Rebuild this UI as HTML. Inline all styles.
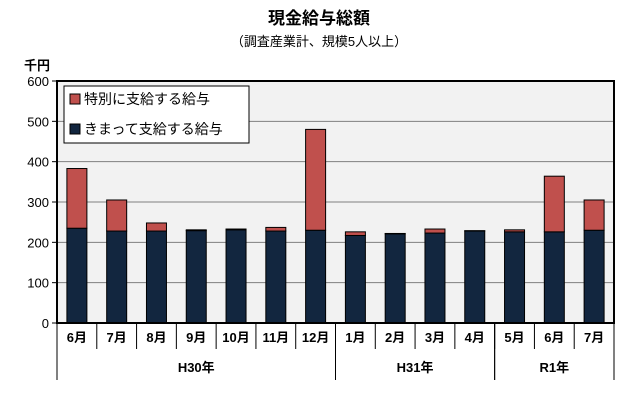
<!DOCTYPE html>
<html><head><meta charset="utf-8"><style>
body{margin:0;background:#fff;font-family:"Liberation Sans","Noto Sans CJK JP",sans-serif;}
svg text{font-family:"Liberation Sans","Noto Sans CJK JP",sans-serif;}
</style></head><body>
<svg id="c" width="639" height="402" xmlns="http://www.w3.org/2000/svg">
<text x="319" y="24" text-anchor="middle" font-size="17" font-weight="bold">現金給与総額</text>
<text x="319" y="46" text-anchor="middle" font-size="13">（調査産業計、規模5人以上）</text>
<text x="37" y="70" text-anchor="middle" font-size="13" font-weight="bold">千円</text>
<rect x="57" y="81" width="557" height="242" fill="#f2f2f2"/>
<g id="grid"></g><g id="bars"></g><g id="xaxis"></g>
<rect x="57" y="81" width="557" height="242" fill="none" stroke="#000" stroke-width="2"/>
<g>
<rect x="64" y="86" width="185" height="57" fill="#fff" stroke="#000"/>
<rect x="70" y="94" width="10" height="10" fill="#c0504d" stroke="#000"/>
<text x="84" y="104" font-size="14">特別に支給する給与</text>
<rect x="70" y="124" width="10" height="10" fill="#12263f" stroke="#000"/>
<text x="84" y="134" font-size="14">きまって支給する給与</text>
</g>
</svg>
<script>
const categories=["6月","7月","8月","9月","10月","11月","12月","1月","2月","3月","4月","5月","6月","7月"];
const regular=[235,228,228,229,231,228,230,217,221,223,228,226,226,230];
const special=[148,77,20,2,2,9,250,9,1,10,1,5,138,75];
const yTicks=[0,100,200,300,400,500,600];
const groups=[{label:"H30年",start:0,end:7},{label:"H31年",start:7,end:11},{label:"R1年",start:11,end:14}];
const X0=57,X1=614,Y0=323,Y1=81,YMAX=600;
const bw=(X1-X0)/categories.length;
const y=v=>Y0-(v/YMAX)*(Y0-Y1);
const xs=i=>X0+i*bw;
const NS="http://www.w3.org/2000/svg";
function mk(tag,attrs,parent,txt){const e=document.createElementNS(NS,tag);for(const k in attrs)e.setAttribute(k,attrs[k]);if(txt!==undefined)e.textContent=txt;parent.appendChild(e);return e;}
const grid=document.getElementById('grid'),bars=document.getElementById('bars'),xa=document.getElementById('xaxis');
yTicks.forEach(t=>{
 if(t>0&&t<YMAX){const l=mk('line',{x1:X0,x2:X1,y1:y(t),y2:y(t),stroke:'#808080'},grid);
 
 }
 const tk=mk('line',{x1:X0-5,x2:X0,y1:y(t),y2:y(t),stroke:'#000'},grid);
 
 
 const tx=mk('text',{x:X0-8,y:y(t)+5,'text-anchor':'end','font-size':13},grid,String(t));
 
 
});
categories.forEach((c,i)=>{
 const cx=xs(i)+bw/2,w=20;
 const r=mk('rect',{x:cx-w/2,y:y(regular[i]),width:w,height:Y0-y(regular[i]),fill:'#12263f',stroke:'#000'},bars);
 
 
 const s=mk('rect',{x:cx-w/2,y:y(regular[i]+special[i]),width:w,height:y(regular[i])-y(regular[i]+special[i]),fill:'#c0504d',stroke:'#000'},bars);
 
 
 const t=mk('text',{x:cx,y:342,'text-anchor':'middle','font-size':13,'font-weight':'bold'},xa,c);
 
 
 if(i>0){const l=mk('line',{x1:xs(i),x2:xs(i),y1:Y0,y2:349,stroke:'#000'},xa);
 
 }
});
groups.forEach(g=>{
 [g.start,g.end].forEach(k=>{const l=mk('line',{x1:xs(k),x2:xs(k),y1:Y0,y2:380,stroke:'#000'},xa);
 
 });
 const t=mk('text',{x:(xs(g.start)+xs(g.end))/2,y:372,'text-anchor':'middle','font-size':13,'font-weight':'bold'},xa,g.label);
 
 
});
</script>
</body></html>
